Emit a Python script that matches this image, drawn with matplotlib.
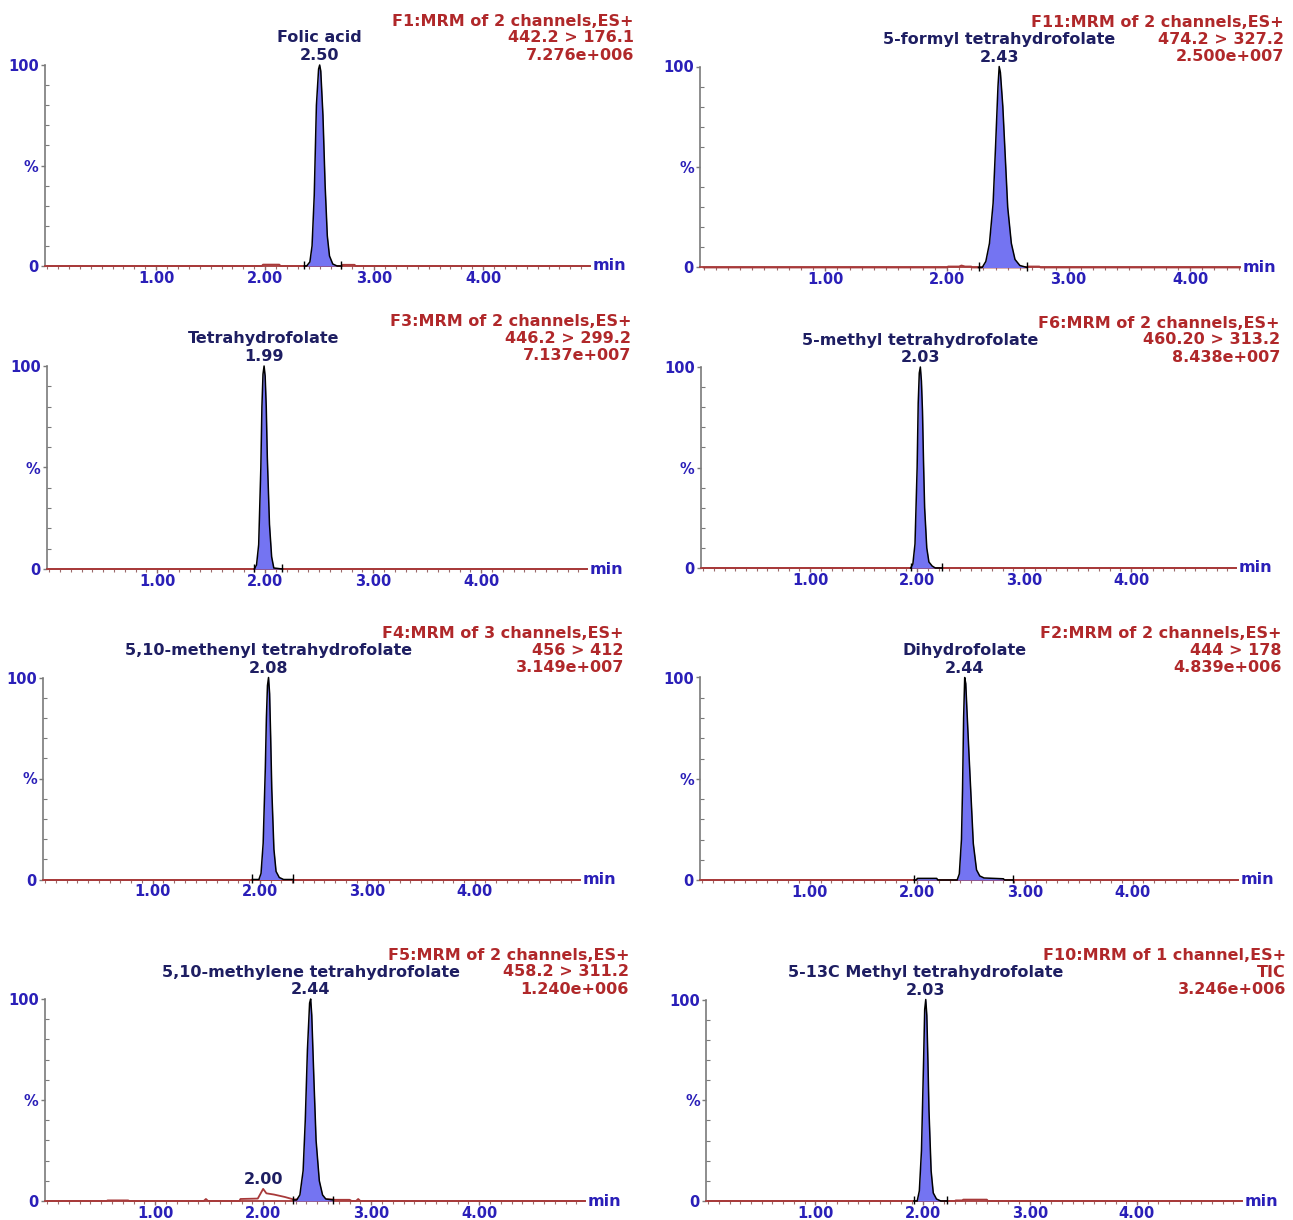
import matplotlib
matplotlib.use("Agg")
import matplotlib.pyplot as plt
from matplotlib.ticker import MultipleLocator, FixedLocator, FixedFormatter

# ---------------- data ----------------
# Panel 1: Folic acid
FA_HEADER = ["F1:MRM of 2 channels,ES+", "442.2 > 176.1", "7.276e+006"]
FA_NAME = "Folic acid"
FA_RT = [2.50]
FA_RT_Y = [100]
FA_BASE_T = [0.0, 1.97, 1.98, 2.13, 2.14, 2.70, 2.71, 2.82, 2.83, 4.98]
FA_BASE_Y = [0, 0, 0.7, 0.7, 0, 0, 0.6, 0.6, 0, 0]
FA_WIN_T = [2.36, 2.38, 2.41, 2.43, 2.45, 2.47, 2.49, 2.50, 2.51, 2.53, 2.55, 2.57, 2.59, 2.62, 2.66, 2.70]
FA_WIN_Y = [0, 0, 2, 10, 35, 80, 98, 100, 97, 75, 40, 15, 5, 1, 0, 0]

# Panel 2: 5-formyl tetrahydrofolate
FT_HEADER = ["F11:MRM of 2 channels,ES+", "474.2 > 327.2", "2.500e+007"]
FT_NAME = "5-formyl tetrahydrofolate"
FT_RT = [2.43]
FT_RT_Y = [100]
FT_BASE_T = [0.0, 2.00, 2.01, 2.10, 2.12, 2.15, 2.20, 2.21, 2.66, 2.67, 2.76, 2.77, 4.41]
FT_BASE_Y = [0, 0, 0.5, 0.5, 1.0, 0.5, 0.5, 0, 0, 0.5, 0.5, 0, 0]
FT_WIN_T = [2.26, 2.29, 2.32, 2.35, 2.38, 2.40, 2.42, 2.43, 2.44, 2.46, 2.48, 2.50, 2.53, 2.56, 2.60, 2.66]
FT_WIN_Y = [0, 0, 3, 12, 32, 60, 90, 100, 97, 80, 55, 30, 12, 4, 1, 0]

# Panel 3: Tetrahydrofolate
TH_HEADER = ["F3:MRM of 2 channels,ES+", "446.2 > 299.2", "7.137e+007"]
TH_NAME = "Tetrahydrofolate"
TH_RT = [1.99]
TH_RT_Y = [100]
TH_BASE_T = [0.0, 4.98]
TH_BASE_Y = [0, 0]
TH_WIN_T = [1.90, 1.92, 1.94, 1.96, 1.97, 1.98, 1.99, 2.00, 2.01, 2.02, 2.04, 2.06, 2.08, 2.16]
TH_WIN_Y = [0, 2, 12, 50, 80, 96, 100, 95, 80, 55, 22, 6, 0.5, 0]

# Panel 4: 5-methyl tetrahydrofolate
MH_HEADER = ["F6:MRM of 2 channels,ES+", "460.20 > 313.2", "8.438e+007"]
MH_NAME = "5-methyl tetrahydrofolate"
MH_RT = [2.03]
MH_RT_Y = [100]
MH_BASE_T = [0.0, 4.98]
MH_BASE_Y = [0, 0]
MH_WIN_T = [1.94, 1.96, 1.98, 2.00, 2.01, 2.02, 2.03, 2.04, 2.05, 2.06, 2.07, 2.09, 2.11, 2.14, 2.17, 2.23]
MH_WIN_Y = [0, 2, 12, 50, 82, 97, 100, 93, 78, 52, 30, 10, 3, 1, 0, 0]

# Panel 5: 5,10-methenyl tetrahydrofolate
ME_HEADER = ["F4:MRM of 3 channels,ES+", "456 > 412", "3.149e+007"]
ME_NAME = "5,10-methenyl tetrahydrofolate"
ME_RT = [2.08]
ME_RT_Y = [100]
ME_BASE_T = [0.0, 4.98]
ME_BASE_Y = [0, 0]
ME_WIN_T = [1.93, 1.99, 2.01, 2.03, 2.05, 2.06, 2.07, 2.08, 2.09, 2.10, 2.11, 2.13, 2.15, 2.18, 2.22, 2.31]
ME_WIN_Y = [0, 0, 3, 18, 55, 80, 96, 100, 92, 70, 45, 15, 4, 1, 0, 0]

# Panel 6: Dihydrofolate
DH_HEADER = ["F2:MRM of 2 channels,ES+", "444 > 178", "4.839e+006"]
DH_NAME = "Dihydrofolate"
DH_RT = [2.44]
DH_RT_Y = [100]
DH_BASE_T = [0.0, 4.98]
DH_BASE_Y = [0, 0]
DH_WIN_T = [1.97, 1.99, 2.00, 2.18, 2.19, 2.37, 2.39, 2.41, 2.42, 2.43, 2.44, 2.45, 2.46, 2.48,
            2.50, 2.52, 2.55, 2.58, 2.62, 2.80, 2.81, 2.89]
DH_WIN_Y = [0, 0, 0.8, 0.8, 0, 0, 3, 20, 45, 80, 100, 97, 85, 62,
            40, 18, 5, 2, 1, 0.6, 0, 0]

# Panel 7: 5,10-methylene tetrahydrofolate
MN_HEADER = ["F5:MRM of 2 channels,ES+", "458.2 > 311.2", "1.240e+006"]
MN_NAME = "5,10-methylene tetrahydrofolate"
MN_RT = [2.44, 2.00]
MN_RT_Y = [100, 6]
MN_BASE_T = [0.0, 0.55, 0.56, 0.75, 0.76, 1.45, 1.47, 1.49, 1.78, 1.79, 1.95, 2.00, 2.03,
             2.10, 2.20, 2.28, 2.65, 2.66, 2.80, 2.82, 2.86, 2.88, 2.90, 4.98]
MN_BASE_Y = [0, 0, 0.3, 0.3, 0, 0, 1.0, 0, 0, 1.0, 1.2, 6.0, 3.8,
             3.2, 2.0, 0.8, 0.8, 0.6, 0.6, 0, 0, 1.0, 0, 0]
MN_WIN_T = [2.28, 2.31, 2.34, 2.37, 2.39, 2.41, 2.43, 2.44, 2.45, 2.47, 2.49, 2.52, 2.55, 2.58, 2.65]
MN_WIN_Y = [0.5, 0.5, 3, 15, 40, 75, 98, 100, 92, 60, 30, 10, 3, 1, 0.5]

# Panel 8: 5-13C Methyl tetrahydrofolate
MC_HEADER = ["F10:MRM of 1 channel,ES+", "TIC", "3.246e+006"]
MC_NAME = "5-13C Methyl tetrahydrofolate"
MC_RT = [2.03]
MC_RT_Y = [100]
MC_BASE_T = [0.0, 2.30, 2.31, 2.37, 2.38, 2.60, 2.61, 4.98]
MC_BASE_Y = [0, 0, 0.3, 0.3, 0.7, 0.7, 0, 0]
MC_WIN_T = [1.92, 1.95, 1.97, 1.99, 2.01, 2.02, 2.03, 2.04, 2.05, 2.06, 2.08, 2.10, 2.13, 2.17, 2.23]
MC_WIN_Y = [0, 0, 5, 25, 70, 95, 100, 92, 70, 45, 15, 4, 1, 0, 0]

X_TICKS = [1, 2, 3, 4]
X_TICK_LABELS = ["1.00", "2.00", "3.00", "4.00"]
Y_TICKS = [0, 50, 100]
Y_TICK_LABELS = ["0", "%", "100"]

# ---------------- layout (pixels in the 1293x1220 image) ----------------
W, H = 1293, 1220
# left, right, y of 100 line, y of 0 line, xlim
LAYOUT = [
    (45, 590, 65, 266, (-0.02, 4.98)),
    (700, 1240, 66.5, 267.5, (-0.03, 4.41)),
    (47, 587, 366, 569, (-0.02, 4.98)),
    (701, 1236, 367, 568, (-0.02, 4.98)),
    (43, 580, 677.5, 879.5, (-0.02, 4.98)),
    (700, 1238, 677.5, 880, (-0.02, 4.98)),
    (45, 585, 999, 1201, (-0.02, 4.98)),
    (706, 1242, 999.5, 1201, (-0.02, 4.98)),
]

PANELS = [
    (FA_HEADER, FA_NAME, FA_RT, FA_RT_Y, FA_BASE_T, FA_BASE_Y, FA_WIN_T, FA_WIN_Y),
    (FT_HEADER, FT_NAME, FT_RT, FT_RT_Y, FT_BASE_T, FT_BASE_Y, FT_WIN_T, FT_WIN_Y),
    (TH_HEADER, TH_NAME, TH_RT, TH_RT_Y, TH_BASE_T, TH_BASE_Y, TH_WIN_T, TH_WIN_Y),
    (MH_HEADER, MH_NAME, MH_RT, MH_RT_Y, MH_BASE_T, MH_BASE_Y, MH_WIN_T, MH_WIN_Y),
    (ME_HEADER, ME_NAME, ME_RT, ME_RT_Y, ME_BASE_T, ME_BASE_Y, ME_WIN_T, ME_WIN_Y),
    (DH_HEADER, DH_NAME, DH_RT, DH_RT_Y, DH_BASE_T, DH_BASE_Y, DH_WIN_T, DH_WIN_Y),
    (MN_HEADER, MN_NAME, MN_RT, MN_RT_Y, MN_BASE_T, MN_BASE_Y, MN_WIN_T, MN_WIN_Y),
    (MC_HEADER, MC_NAME, MC_RT, MC_RT_Y, MC_BASE_T, MC_BASE_Y, MC_WIN_T, MC_WIN_Y),
]

# ---------------- style ----------------
FONT = "DejaVu Sans"
RED_TXT = "#b0282a"
NAVY = "#1e1e62"
BLUE = "#2a1fb8"
TRACE = "#a83a3a"
FILL = "#7474f2"
AXIS_GREY = "#7a7a7a"
HDR_FS = 11.5
TICK_FS = 10.5

plt.rcParams["font.family"] = [FONT]
fig = plt.figure(figsize=(W / 100, H / 100), dpi=100)

for (header, name, rts, rt_ys, bt, by, wt, wy), (l, r, y100, y0, xlim) in zip(PANELS, LAYOUT):
    ax = fig.add_axes([l / W, 1 - y0 / H, (r - l) / W, (y0 - y100) / H])
    ax.set_xlim(*xlim)
    ax.set_ylim(0, 100)
    ax.patch.set_alpha(0)

    # traces
    ax.plot(bt, by, color=TRACE, lw=1.3, clip_on=False, zorder=3)
    ax.fill_between(wt, wy, 0, color=FILL, lw=0, zorder=4)
    ax.plot(wt, wy, color="black", lw=1.1, clip_on=False, zorder=5)
    ax.vlines([wt[0], wt[-1]], -1.5, 2.5, color="black", lw=1.0, clip_on=False, zorder=5)

    # spines
    for s in ("top", "right"):
        ax.spines[s].set_visible(False)
    ax.spines["left"].set_color(AXIS_GREY)
    ax.spines["left"].set_linewidth(1.2)
    ax.spines["bottom"].set_color(TRACE)
    ax.spines["bottom"].set_linewidth(1.3)

    # ticks
    ax.xaxis.set_major_locator(FixedLocator(X_TICKS))
    ax.xaxis.set_major_formatter(FixedFormatter(X_TICK_LABELS))
    ax.xaxis.set_minor_locator(MultipleLocator(0.1))
    ax.yaxis.set_major_locator(FixedLocator(Y_TICKS))
    ax.yaxis.set_major_formatter(FixedFormatter(Y_TICK_LABELS))
    ax.yaxis.set_minor_locator(MultipleLocator(10))
    ax.tick_params(axis="x", which="major", direction="out", length=3, width=1,
                   color="#8a6a6a", pad=0.5, labelsize=TICK_FS, labelcolor=BLUE)
    ax.tick_params(axis="x", which="minor", direction="out", length=2.5, width=0.8,
                   color="#9a6a6a")
    ax.tick_params(axis="y", which="major", direction="out", length=3, width=1,
                   color=AXIS_GREY, pad=1.5, labelsize=TICK_FS, labelcolor=BLUE)
    ax.tick_params(axis="y", which="minor", direction="in", length=3, width=0.8,
                   color=AXIS_GREY)
    for lab in ax.get_xticklabels() + ax.get_yticklabels():
        lab.set_fontweight("bold")

    # "min" axis unit
    ax.annotate("min", xy=(1, 0), xycoords="axes fraction", xytext=(3, 0),
                textcoords="offset pixels", ha="left", va="center",
                fontsize=HDR_FS, fontweight="bold", color=BLUE)

    # header (red, right aligned)
    for dy, line in zip((44, 27, 10), header):
        ax.annotate(line, xy=(1, 1), xycoords="axes fraction", xytext=(44, dy),
                    textcoords="offset pixels", ha="right", va="center",
                    fontsize=HDR_FS, fontweight="bold", color=RED_TXT)

    # compound name and retention time labels
    ax.annotate(name, xy=(rts[0], 100), xycoords="data", xytext=(0, 27),
                textcoords="offset pixels", ha="center", va="center",
                fontsize=HDR_FS, fontweight="bold", color=NAVY)
    for rt, ry in zip(rts, rt_ys):
        ax.annotate(f"{rt:.2f}", xy=(rt, ry), xycoords="data", xytext=(0, 9),
                    textcoords="offset pixels", ha="center", va="center",
                    fontsize=HDR_FS, fontweight="bold", color=NAVY)

fig.savefig("out.png", dpi=100, facecolor="white")
